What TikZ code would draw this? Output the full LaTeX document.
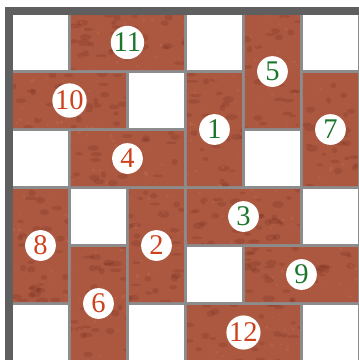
\documentclass[tikz,border=0pt]{standalone}
\usepackage{fontspec}
\setmainfont{Liberation Serif}
\usetikzlibrary{calc}
\definecolor{framegray}{RGB}{95,95,95}
\definecolor{gapgray}{RGB}{140,140,140}
\definecolor{brick}{RGB}{172,88,64}
\definecolor{brickdark}{RGB}{110,38,28}
\definecolor{bricklight}{RGB}{205,120,90}
\definecolor{numred}{RGB}{205,66,28}
\definecolor{numgreen}{RGB}{28,118,44}
\tikzset{
  tile/.style={fill=brick, path picture={
    \foreach \i in {1,...,500}
      \fill[brickdark, opacity=0.22]
        ($(path picture bounding box.center)+(3*rand,3*rand)$)
        ellipse ({0.04+0.07*rnd} and {0.02+0.04*rnd});
    \foreach \i in {1,...,400}
      \fill[bricklight, opacity=0.25]
        ($(path picture bounding box.center)+(3*rand,3*rand)$)
        circle ({0.01+0.025*rnd});
  }},
  numred/.style={circle, fill=white, minimum size=0.53cm, inner sep=0pt,
    text=numred, font=\fontsize{14}{14}\selectfont},
  numgreen/.style={numred, text=numgreen},
}
\begin{document}
\begin{tikzpicture}[x=1cm, y=-1cm]
			\pgfmathsetseed{7}
			\useasboundingbox (-0.224,-0.259) rectangle (5.966,5.948);
			\fill[white] (-0.224,-0.259) rectangle (5.966,5.948);
			\fill[framegray] (-0.138,-0.138) rectangle (5.966,5.948);
			\fill[gapgray] (0,0) rectangle (5.966,5.948);
			% empty squares
			\foreach \c in {0,...,5}
				\foreach \r in {0,...,5}
					\fill[white] (\c,\r) rectangle ++(0.948,0.948);
			% tiles, horizontal then vertical
			\fill[tile] (1,0) rectangle ++(1.948,0.948)
				(0,1) rectangle ++(1.948,0.948)
				(1,2) rectangle ++(1.948,0.948)
				(3,3) rectangle ++(1.948,0.948)
				(4,4) rectangle ++(1.948,0.948)
				(3,5) rectangle ++(1.948,0.948)
				(4,0) rectangle ++(0.948,1.948)
				(3,1) rectangle ++(0.948,1.948)
				(5,1) rectangle ++(0.948,1.948)
				(0,3) rectangle ++(0.948,1.948)
				(2,3) rectangle ++(0.948,1.948)
				(1,4) rectangle ++(0.948,1.948);
			\coordinate (T11) at (1.974, 0.474);
			\coordinate (T10) at (0.974, 1.474);
			\coordinate (T4)  at (1.974, 2.474);
			\coordinate (T3)  at (3.974, 3.474);
			\coordinate (T9)  at (4.974, 4.474);
			\coordinate (T12) at (3.974, 5.474);
			\coordinate (T5)  at (4.474, 0.974);
			\coordinate (T1)  at (3.474, 1.974);
			\coordinate (T7)  at (5.474, 1.974);
			\coordinate (T8)  at (0.474, 3.974);
			\coordinate (T2)  at (2.474, 3.974);
			\coordinate (T6)  at (1.474, 4.974);
			\node[numgreen] (n11) at (T11) {11};
			\node[numred]   (n10) at (T10) {10};
			\node[numred]   (n4)  at (T4)  {4};
			\node[numgreen] (n3)  at (T3)  {3};
			\node[numgreen] (n9)  at (T9)  {9};
			\node[numred]   (n12) at (T12) {12};
			\node[numgreen] (n5)  at (T5)  {5};
			\node[numgreen] (n1)  at (T1)  {1};
			\node[numgreen] (n7)  at (T7)  {7};
			\node[numred]   (n8)  at (T8)  {8};
			\node[numred]   (n2)  at (T2)  {2};
			\node[numred]   (n6)  at (T6)  {6};
		\end{tikzpicture}
\end{document}
